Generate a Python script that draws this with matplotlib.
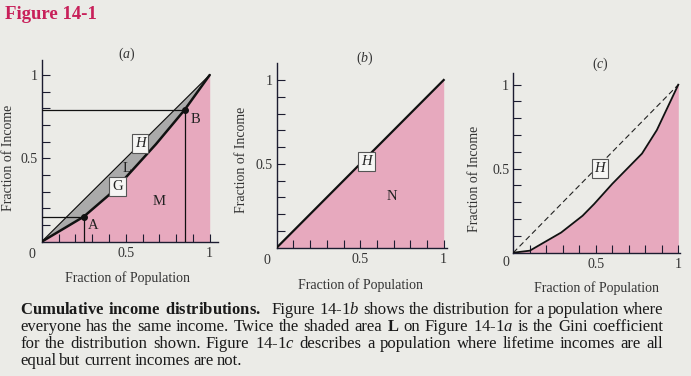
import matplotlib
matplotlib.use("Agg")
import matplotlib.pyplot as plt
import numpy as np

# ---- data ----
pop_a = [0, 0.1, 0.25, 0.4, 0.5, 0.68, 0.85, 1.0]
inc_a = [0, 0.06, 0.15, 0.28, 0.385, 0.585, 0.79, 1.0]
point_A = (0.25, 0.15)
point_B = (0.85, 0.79)

pop_b = [0, 1.0]
inc_b = [0, 1.0]

pop_c = [0, 0.10, 0.29, 0.42, 0.49, 0.60, 0.78, 0.87, 1.0]
inc_c = [0, 0.012, 0.12, 0.22, 0.29, 0.41, 0.59, 0.73, 1.0]

tick_vals = [0.1, 0.2, 0.3, 0.4, 0.5, 0.6, 0.7, 0.8, 0.9, 1.0]
tick_text = ['', '', '', '', '0.5', '', '', '', '', '1']

caption = [
    r"$\mathbf{Cumulative}$ $\mathbf{income}$ $\mathbf{distributions.}$ Figure 14-1$\mathit{b}$ shows the distribution for a population where",
    r"everyone has the same income. Twice the shaded area $\mathbf{L}$ on Figure 14-1$\mathit{a}$ is the Gini coefficient",
    r"for the distribution shown. Figure 14-1$\mathit{c}$ describes a population where lifetime incomes are all",
    r"equal but current incomes are not.",
]

plt.rcParams['font.family'] = ['Liberation Serif', 'DejaVu Serif']
plt.rcParams['mathtext.fontset'] = 'custom'
plt.rcParams['mathtext.rm'] = 'Liberation Serif'
plt.rcParams['mathtext.it'] = 'Liberation Serif:italic'
plt.rcParams['mathtext.bf'] = 'Liberation Serif:bold'

W, H = 691, 376
BG = '#ebebe7'
PINK = '#e7a9be'
GRAY = '#aaaaaa'
INK = '#1c1c30'

fig = plt.figure(figsize=(W / 100, H / 100), dpi=100, facecolor=BG)


def px(x, y):
    return x / W, (H - y) / H


def panel(x0, y0, sx, sy, xmax, ymax):
    ax = fig.add_axes([x0 / W, (H - y0) / H, xmax * sx / W, ymax * sy / H])
    ax.set_xlim(0, xmax)
    ax.set_ylim(0, ymax)
    ax.patch.set_alpha(0)
    for s in ['top', 'right']:
        ax.spines[s].set_visible(False)
    for s in ['left', 'bottom']:
        ax.spines[s].set_color(INK)
        ax.spines[s].set_linewidth(1.0)
    ax.set_xticks(tick_vals)
    ax.set_xticklabels(tick_text)
    ax.set_yticks(tick_vals)
    ax.set_yticklabels(tick_text)
    ax.tick_params(direction='in', length=5.5, width=0.8, color=INK,
                   labelsize=10, labelcolor='#333')
    ax.tick_params(axis='x', pad=4)
    ax.tick_params(axis='y', pad=3)
    return ax


def boxed(ax, x, y, s, italic=True):
    ax.text(x, y, s, ha='center', va='center', fontsize=10.5,
            style='italic' if italic else 'normal', color='#222',
            bbox=dict(boxstyle='square,pad=0.2', fc='#f6f6f4', ec='#555', lw=0.8),
            zorder=6)


# ---- panel (a) ----
ax = panel(41.7, 241.7, 168, 166.7, 1.05, 1.09)
diag = np.array([0, 1.0])
ax.fill_between(pop_a, 0, inc_a, color=PINK, lw=0, zorder=1)
ax.fill_between(pop_a, inc_a, pop_a, color=GRAY, lw=0, zorder=1)
ax.plot(diag, diag, color='#111', lw=0.9, zorder=3)
ax.plot(pop_a, inc_a, color='#111', lw=1.8, zorder=4, solid_capstyle='round')
for px_, py_ in [point_A, point_B]:
    ax.plot([0, px_], [py_, py_], color='#111', lw=0.9, zorder=3)
    ax.plot([px_, px_], [0, py_], color='#111', lw=0.9, zorder=3)
    ax.plot(px_, py_, 'o', color='#111', ms=4, zorder=5)
ax.text(0.307, 0.096, 'A', ha='center', va='center', fontsize=10.5, color='#222')
ax.text(0.918, 0.736, 'B', ha='center', va='center', fontsize=10.5, color='#222')
ax.text(0.51, 0.44, 'L', ha='center', va='center', fontsize=10.5, color='#222')
ax.text(0.70, 0.24, 'M', ha='center', va='center', fontsize=10.5, color='#222')
boxed(ax, 0.585, 0.59, 'H')
boxed(ax, 0.45, 0.33, 'G', italic=False)

# ---- panel (b) ----
bx = panel(276.7, 247.7, 167, 167.7, 1.02, 1.10)
bx.fill_between(pop_b, 0, inc_b, color=PINK, lw=0, zorder=1)
bx.plot(pop_b, inc_b, color='#111', lw=1.6, zorder=4)
bx.text(0.689, 0.304, 'N', ha='center', va='center', fontsize=10.5, color='#222')
boxed(bx, 0.539, 0.513, 'H')

# ---- panel (c) ----
cx = panel(513.3, 252.7, 165, 168, 1.01, 1.07)
cx.fill_between(pop_c, 0, inc_c, color=PINK, lw=0, zorder=1)
cx.plot(pop_b, inc_b, color='#222', lw=0.8, ls=(0, (5, 3)), zorder=3)
cx.plot(pop_c, inc_c, color='#111', lw=1.3, zorder=4)
boxed(cx, 0.525, 0.502, 'H')

# ---- texts placed in pixel coordinates ----
lab = dict(fontsize=10, color='#333', ha='center', va='center')
for (x, y), s in zip([(127, 54), (365, 58), (600, 64)], ['a', 'b', 'c']):
    fig.text(*px(x, y), '($\\mathit{%s}$)' % s, **lab)
for x, y in [(32.3, 255), (267, 260), (506, 262.7)]:
    fig.text(*px(x, y), '0', **lab)
for x, y in [(127.5, 278), (360, 285), (597, 288)]:
    fig.text(*px(x, y), 'Fraction of Population', **lab)
for x, y in [(8.3, 158), (241.7, 160), (474, 179)]:
    fig.text(*px(x, y), 'Fraction of Income', rotation=90, **lab)

fig.text(*px(5, 19), 'Figure 14-1', fontsize=13.5, fontweight='bold',
         color='#c8205a', ha='left', va='baseline')

# caption, justified between x=20 and x=663
renderer = fig.canvas.get_renderer()
left, right = 20, 663
cap_fs = 12
for i, line in enumerate(caption):
    yb = 314 + 17 * i
    words = line.split(' ')
    items = []
    for w in words:
        t = fig.text(*px(0, yb), w, fontsize=cap_fs, color='#1a1a1a',
                     ha='left', va='baseline')
        items.append((t, t.get_window_extent(renderer).width))
    total = sum(wd for _, wd in items)
    if i < len(caption) - 1:
        weights = [3 if words[k].endswith('distributions.}$') else 1
                   for k in range(len(words) - 1)]
        gap = (right - left - total) / sum(weights)
    else:
        weights = [1] * (len(words) - 1)
        gap = 3.3
    x = left
    for k, (t, wd) in enumerate(items):
        t.set_position(px(x, yb))
        x += wd
        if k < len(weights):
            x += gap * weights[k]

fig.savefig('out.png', dpi=100, facecolor=BG)
